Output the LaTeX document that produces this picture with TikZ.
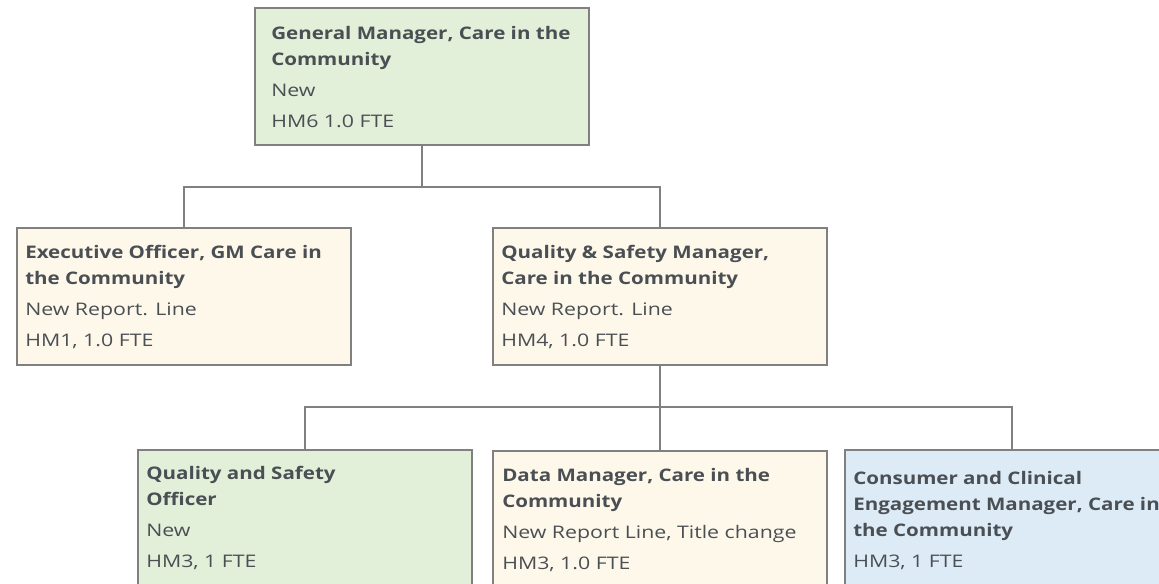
\documentclass[tikz,border=0pt]{standalone}
\usepackage{fontspec}
\setmainfont{Open Sans}[UprightFeatures={FakeStretch=1.23},BoldFeatures={FakeStretch=1.185}]
\definecolor{txtgray}{HTML}{4A4F54}
\definecolor{edgegray}{HTML}{808080}
\definecolor{boxgreen}{HTML}{E2EFD9}
\definecolor{boxcream}{HTML}{FEF8EB}
\definecolor{boxblue}{HTML}{DDEBF7}
\tikzset{
  card/.style={rectangle, draw=edgegray, line width=1.35pt, inner sep=0pt,
    minimum width=250.5pt, minimum height=102.75pt, anchor=north west},
  greencard/.style={card, fill=boxgreen},
  creamcard/.style={card, fill=boxcream},
  bluecard/.style={card, fill=boxblue},
  cardtext/.style={anchor=base west, inner sep=0pt, align=left, text=txtgray,
    font=\fontsize{13}{19.5}\selectfont},
  link/.style={draw=edgegray, line width=1.35pt}
}
\newcommand{\gap}{\\[3.75pt]}
\begin{document}
\begin{tikzpicture}[x=0.75pt,y=-0.75pt]
\useasboundingbox (0,0) rectangle (1159,583);
\clip (0,0) rectangle (1159,583);
% boxes
\node[greencard] (gm) at (254,7) {};
\node[creamcard] (exec) at (16,227) {};
\node[creamcard] (qsm) at (492,227) {};
\node[greencard] (qso) at (137,449) {};
\node[creamcard] (dm) at (492,450) {};
\node[bluecard] (cce) at (844,449) {};
% texts (anchored at the baseline of their last line)
\node[cardtext] (gmt) at (271,127) {\textbf{General Manager, Care in the}\\\textbf{Community}\gap New\gap HM6 1.0 FTE};
\node[cardtext] (exect) at (25,346) {\textbf{Executive Officer, GM Care in}\\\textbf{the Community}\gap New Report. Line\gap HM1, 1.0 FTE};
\node[cardtext] (qsmt) at (501,346) {\textbf{Quality \& Safety Manager,}\\\textbf{Care in the Community}\gap New Report. Line\gap HM4, 1.0 FTE};
\node[cardtext] (qsot) at (146,567) {\textbf{Quality and Safety}\\\textbf{Officer}\gap New\gap HM3, 1 FTE};
\node[cardtext] (dmt) at (502,569) {\textbf{Data Manager, Care in the}\\\textbf{Community}\gap New Report Line, Title change\gap HM3, 1.0 FTE};
\node[cardtext] (ccet) at (853,567) {\textbf{Consumer and Clinical}\\\textbf{Engagement Manager, Care in}\\\textbf{the Community}\gap HM3, 1 FTE};
% connectors
\coordinate (j1) at ([yshift=-30.75pt]gm.south);
\coordinate (j2) at ([yshift=-30.75pt]qsm.south);
\draw[link] (gm.south) -- (j1) -| (exec.north);
\draw[link] (j1) -| (qsm.north);
\draw[link] (qsm.south) -- (j2) -| (qso.north);
\draw[link] (j2) -- (dm.north);
\draw[link] (j2) -| (cce.north);
\end{tikzpicture}
\end{document}
